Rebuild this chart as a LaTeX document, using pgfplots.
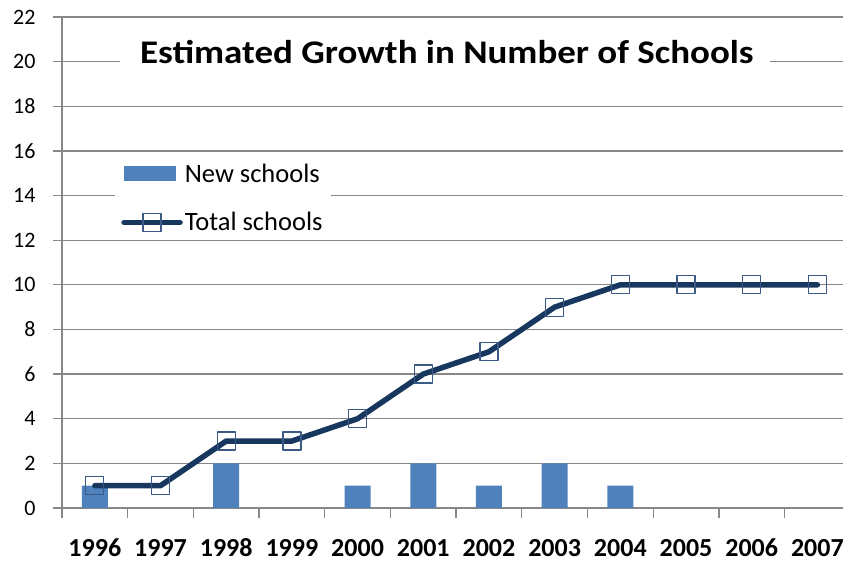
\documentclass[border=0pt]{standalone}
\usepackage{fontspec}
\setmainfont{Carlito}
\usepackage{pgfplots}
\pgfplotsset{compat=1.18}
\usetikzlibrary{calc}
\definecolor{barblue}{HTML}{4F81BD}
\definecolor{linenavy}{HTML}{17375E}
\definecolor{markedge}{HTML}{3B5B86}
\definecolor{gridgray}{HTML}{878787}

\pgfplotsset{
  barleg/.style={legend image code/.code={\fill[barblue] (0pt,-7.5pt) rectangle (52pt,7.5pt);}},
  lineleg/.style={legend image code/.code={%
    \draw[mark repeat=2, mark phase=2, ##1] plot coordinates {(0pt,0pt) (28pt,0pt) (56pt,0pt)};}},
}

\begin{document}
\begin{tikzpicture}
\begin{axis}[
  name=ax,
  scale only axis,
  width=781pt, height=491pt,
  xmin=-0.5, xmax=11.39,
  ymin=0, ymax=22,
  axis lines*=left,
  axis line style={gridgray, line width=1.3pt},
  tick style={gridgray, line width=1.3pt},
  tick align=outside,
  tick pos=left,
  major tick length=9pt,
  minor tick length=10pt,
  ytick={0,2,...,22},
  ymajorgrids,
  grid style={gridgray, line width=1.3pt},
  /pgf/number format/assume math mode=true,
  xtick={0,...,11},
  xticklabels={1996,1997,1998,1999,2000,2001,2002,2003,2004,2005,2006,2007},
  major x tick style={draw=none},
  minor xtick={-0.5,0.5,...,10.5},
  xticklabel style={font=\bfseries\fontsize{26}{26}\selectfont, text height=17pt, text depth=0pt, yshift=-19pt},
  yticklabel style={font=\fontsize{22}{22}\selectfont, xshift=-14pt},
  legend cell align=left,
  legend style={at={(0.068,0.716)}, anchor=north west, draw=none, fill=white,
    font=\fontsize{26.5}{26.5}\selectfont, row sep=25pt, inner xsep=6pt, inner ysep=5pt},
]
\fill[white] (axis cs:0.38,18.5) rectangle (axis cs:10.28,21.4);
\node[font=\bfseries\fontsize{33}{33}\selectfont, xscale=1.12] at (axis cs:5.36,20.43) {Estimated Growth in Number of Schools};

\addplot[ybar, bar width=26pt, fill=barblue, draw=none, barleg]
  coordinates {(0,1) (2,2) (4,1) (5,2) (6,1) (7,2) (8,1)};
\addlegendentry{New schools}

\addplot[linenavy, line width=5.5pt, line join=round, line cap=round,
  mark=square, mark size=9pt,
  mark options={draw=markedge, line width=1.2pt, fill=none}, lineleg]
  coordinates {(0,1) (1,1) (2,3) (3,3) (4,4) (5,6) (6,7) (7,9) (8,10) (9,10) (10,10) (11,10)};
\addlegendentry{Total schools}
\end{axis}
\pgfresetboundingbox
\path[use as bounding box] ($(ax.south west)+(-62pt,-56pt)$) rectangle ($(ax.south west)+(781pt,508pt)$);
\end{tikzpicture}
\end{document}
